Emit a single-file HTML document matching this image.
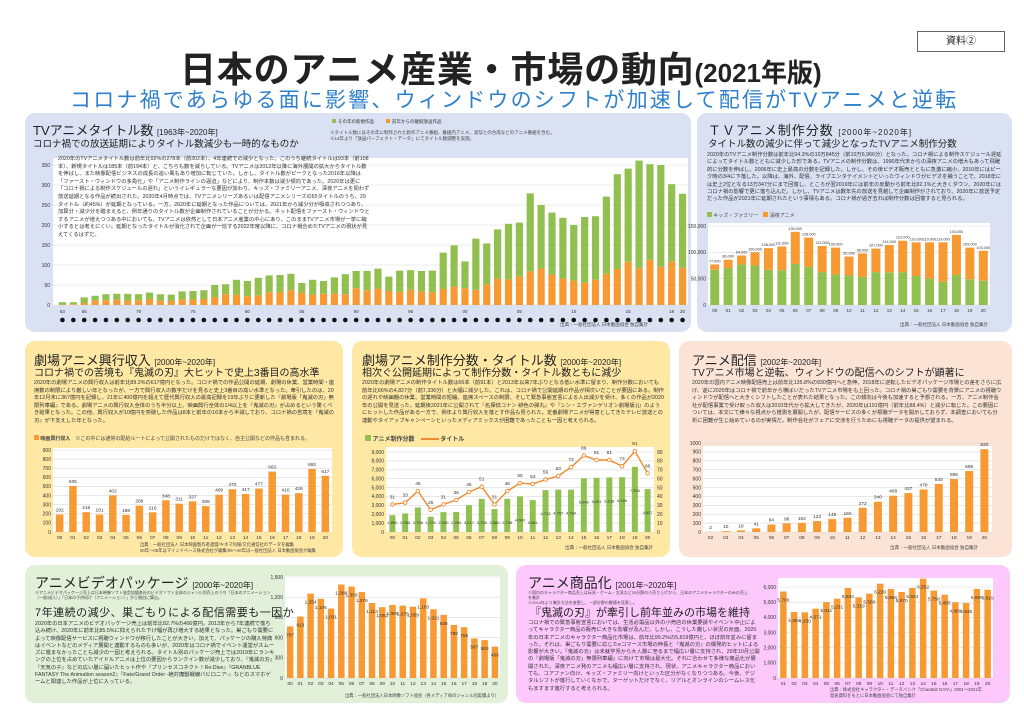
<!DOCTYPE html>
<html lang="ja"><head><meta charset="utf-8">
<style>
*{margin:0;padding:0;box-sizing:border-box}
body{width:1024px;height:724px;background:#fff;position:relative;overflow:hidden;font-family:"Liberation Sans","Noto Sans CJK JP",sans-serif;color:#222}
.abs{position:absolute;z-index:3}
.panel{position:absolute;border-radius:10px;z-index:0}
.t1{font-size:13px;white-space:nowrap;color:#222}
.t1 small{font-size:8px}
.t2{font-size:10.5px;white-space:nowrap;color:#222}
.p{font-size:6px;line-height:8.6px;color:#333}
.tiny{font-size:4.5px;line-height:5.5px;color:#444}
svg text{font-family:"Liberation Sans","Noto Sans CJK JP",sans-serif}
#charts{z-index:1}
</style></head><body>
<div class="abs" style="left:180px;top:41px;font-size:36px;font-weight:bold;white-space:nowrap;letter-spacing:0.8px">日本のアニメ産業・市場の動向<span style="font-size:26px;letter-spacing:0">(2021年版)</span></div>
<div class="abs" style="left:70px;top:84px;font-size:21px;color:#2e80cc;white-space:nowrap;letter-spacing:2.2px">コロナ禍であらゆる面に影響、ウィンドウのシフトが加速して配信がTVアニメと逆転</div>
<div class="abs" style="left:917px;top:31px;width:88px;height:21px;border:1px solid #666;font-size:10px;text-align:center;line-height:19px">資料②</div>

<div class="panel" style="left:25px;top:113px;width:666px;height:219px;background:#d9e1f2"></div>
<div class="panel" style="left:697px;top:113px;width:315px;height:219px;background:#d9e1f2"></div>
<div class="panel" style="left:25px;top:341px;width:318px;height:216px;background:#fee8a3"></div>
<div class="panel" style="left:352px;top:341px;width:318px;height:216px;background:#fee8a3"></div>
<div class="panel" style="left:679px;top:341px;width:333px;height:216px;background:#fbe4d5"></div>
<div class="panel" style="left:25px;top:565px;width:483px;height:138px;background:#e2efd9"></div>
<div class="panel" style="left:516px;top:565px;width:494px;height:138px;background:#fdc9fd"></div>

<!-- panel 1 texts -->
<div class="abs t1" style="left:33px;top:120px">TVアニメタイトル数 <small>[1963年~2020年]</small></div>
<div class="abs t2" style="left:33px;top:136px;font-size:9.5px">コロナ禍での放送延期によりタイトル数減少も一時的なものか</div>
<div class="abs tiny" style="left:330px;top:130px;width:330px">※タイトル数にはその年に制作された新作アニメ番組、番組内アニメ、実写との合成などのアニメ番組を含む。<br>※14年より「放送パーフェクト・データ」にてタイトル数調整を実施。</div>
<div class="abs p" style="left:58px;top:156px;width:312px;font-size:5.3px;line-height:7.6px">2020年のTVアニメタイトル数は前年比92%の278本（前302本）、4年連続での減少となった。このうち継続タイトルは93本（前108本）、新規タイトルは185本（前194本）と、こちらも数を減らしている。TVアニメは2012年以降に海外展開の拡大からタイトル数を伸ばし、また映像配信ビジネスの成長の追い風もあり増加に転じていた。しかし、タイトル数がピークとなった2016年以降は「ファースト・ウィンドウの多角化」や「アニメ制作ラインの逼迫」などにより、制作本数は減少傾向であった。2020年は更に「コロナ禍による制作スケジュールの遅れ」というイレギュラーな要因が加わり、キッズ・ファミリーアニメ、深夜アニメを問わず放送延期となる作品が続出された。2020年4月時点では、TVアニメシリーズあるいは配信アニメシリーズの65タイトルのうち、29タイトル（約45%）が延期となっている。一方、2020年に延期となった作品については、2021年から減少分が吸収されつつあり、加算分・減少分を踏まえると、例年通りのタイトル数が企画制作されていることが分かる。ネット配信をファースト・ウィンドウとするアニメが増えつつある中においても、TVアニメは依然として日本アニメ産業の中心にあり、このままTVアニメ市場が一挙に縮小するとは考えにくい。延期となったタイトルが消化されて企画が一巡する2022年度以降に、コロナ禍合めたTVアニメの現状が見えてくるはずだ。</div>
<div class="abs tiny" style="left:560px;top:322px">出典：一般社団法人 日本動画協会 独自集計</div>

<!-- panel 2 -->
<div class="abs t1" style="left:708px;top:120px;letter-spacing:1px">ＴＶアニメ制作分数 <small>[2000年~2020年]</small></div>
<div class="abs t2" style="left:708px;top:136px;font-size:9.5px">タイトル数の減少に伴って減少となったTVアニメ制作分数</div>
<div class="abs p" style="left:707px;top:152px;width:298px;font-size:5.3px;line-height:7.4px">2020年のTVアニメ制作分数は前年比94.3%の10万845分（前10万6,966分）となった。コロナ禍による制作スケジュール遅延によってタイトル数とともに減少した形である。TVアニメの制作分数は、1990年代末からの深夜アニメの増大もあって飛躍的に分数を伸ばし、2006年に史上最高の分数を記録した。しかし、その後ビデオ販売とともに急激に縮小、2010年にはピーク時の3/4に下落した。以降は、海外、配信、ライブエンタテイメントといったウィンドウがビデオを補うことで、2018年には史上2位となる13万347分にまで回復し、ところが翌2019年には前年の反動から前年比82.1%と大きくダウン、2020年にはコロナ禍の影響で更に落ち込んだ。しかし、TVアニメは数年先の放送を見越して企画制作がされており、2020年に放送予定だった作品が2021年に延期されたという事情もある。コロナ禍が過ぎ去れば制作分数は回復すると見られる。</div>
<div class="abs tiny" style="left:707px;top:212px;font-size:5px"><span style="display:inline-block;width:5px;height:5px;background:#92c050"></span> キッズ・ファミリー　<span style="display:inline-block;width:5px;height:5px;background:#f79a34"></span> 深夜アニメ</div>
<div class="abs tiny" style="left:900px;top:322px">出典：一般社団法人 日本動画協会 独自集計</div>

<!-- panel 3 -->
<div class="abs t1" style="left:34px;top:350px">劇場アニメ興行収入 <small>[2000年~2020年]</small></div>
<div class="abs t2" style="left:34px;top:364px;font-size:10px">コロナ禍での苦境も『鬼滅の刃』大ヒットで史上3番目の高水準</div>
<div class="abs p" style="left:34px;top:380px;width:302px;font-size:5.3px;line-height:7.5px">2020年の劇場アニメの興行収入は前年比89.2%の617億円となった。コロナ禍での作品公開の延期、劇場の休業、営業時間・座席数の制限により厳しい年となったが、一方で興行収入の数字だけを見ると史上3番目の高い水準となった。牽引したのは、20年12月末に367億円を記録し、21年に400億円を超えて歴代興行収入の最高記録を19年ぶりに更新した『劇場版「鬼滅の刃」無限列車編』である。劇場アニメの興行収入全体のうち半分以上、映画興行全体の1/4以上を『鬼滅の刃』が占めるという驚くべき結果となった。この他、興行収入が10億円を突破した作品は8本と前年の16本から半減しており、コロナ禍の苦境を『鬼滅の刃』が下支えした年となった。</div>
<div class="abs tiny" style="left:34px;top:435px;font-size:5px"><span style="display:inline-block;width:5px;height:5px;background:#f79a34"></span> <b>映画興行収入</b>　※この中には通常の配給ルートによって公開されたものだけではなく、自主公開などの作品も含まれる。</div>
<div class="abs tiny" style="left:140px;top:542px;font-size:4.3px">出典：一般社団法人 日本映画製作者連盟/キネマ旬報/文化通信社のデータを編集<br>00年～05年はマインドベース株式会社が編集/06～20年は一般社団法人 日本動画協会が編集</div>

<!-- panel 4 -->
<div class="abs t1" style="left:362px;top:350px">劇場アニメ制作分数・タイトル数 <small>[2000年~2020年]</small></div>
<div class="abs t2" style="left:362px;top:364px;font-size:10px">相次ぐ公開延期によって制作分数・タイトル数ともに減少</div>
<div class="abs p" style="left:362px;top:380px;width:302px;font-size:5.3px;line-height:7.5px">2020年の劇場アニメの制作タイトル数は66本（前91本）と2013年以来7年ぶりとなる低い水準に留まり、制作分数においても前年比66%の4,827分（前7,336分）と大幅に減少した。これは、コロナ禍で公開延期の作品が相次いだことが要因にある。制作の遅れや映画館の休業、営業時間の短縮、座席スペースの制限、そして緊急事態宣言による人出減少を受け、多くの作品が2020年の公開を見送った。延期後2021年に公開されて『名探偵コナン 緋色の弾丸』や『シン・エヴァンゲリオン劇場版:||』のようにヒットした作品がある一方で、例年より興行収入を落とす作品も見られた。定番劇場アニメが得意としてきたテレビ放送との連動やタイアップキャンペーンといったメディアミックスが困難であったことも一因と考えられる。</div>
<div class="abs tiny" style="left:365px;top:435px;font-size:6px"><span style="display:inline-block;width:6px;height:6px;background:#92c050"></span> <b>アニメ制作分数</b>　<span style="display:inline-block;width:18px;height:2px;background:#f08a30;vertical-align:middle"></span> <b>タイトル</b></div>
<div class="abs tiny" style="left:565px;top:545px">出典：一般社団法人 日本動画協会 独自集計</div>

<!-- panel 5 -->
<div class="abs t1" style="left:692px;top:350px">アニメ配信 <small>[2002年~2020年]</small></div>
<div class="abs t2" style="left:692px;top:364px;font-size:10px">TVアニメ市場と逆転、ウィンドウの配信へのシフトが顕著に</div>
<div class="abs p" style="left:692px;top:380px;width:310px;font-size:5.3px;line-height:7.5px">2020年の国内アニメ映像配信売上は前年比135.8%の930億円へと急伸。2018年に逆転したビデオパッケージ市場との差をさらに広げ、遂に2020年はコロナ禍で前年から横ばいだったTVアニメ市場をも上回った。コロナ禍の巣ごもり需要を背景にアニメの視聴ウィンドウが配信へと大きくシフトしたことが表れた結果となった。この傾向は今後も加速すると予想される。一方、アニメ制作会社が配信事業で受け取った収入は2010年代から拡大してきたが、2020年は191億円（前年比88.4%）と減少に転じた。この要因については、本文にて様々な視点から推測を展開したが、配信サービスの多くが視聴データを開示しておらず、本調査においても分析に困難が生じ始めているのが実情だ。制作会社がフェアに交渉を行うためにも視聴データの提供が望まれる。</div>
<div class="abs tiny" style="left:890px;top:545px">出典：一般社団法人 日本動画協会 独自集計</div>

<!-- panel 6 -->
<div class="abs t1" style="left:35px;top:573px;font-size:14px">アニメビデオパッケージ <small>[2000年~2020年]</small></div>
<div class="abs tiny" style="left:35px;top:590px;width:240px;font-size:4px;line-height:5px">※アニメビデオパッケージ売上は日本映像ソフト協会加盟各社のビデオソフト全体のジャンル別売上のうち「日本のアニメーション（一般/成人）」「日本の子供向け（アニメーション）」から独自に算出。</div>
<div class="abs t2" style="left:35px;top:604px;font-size:11px;letter-spacing:0.5px">7年連続の減少、巣ごもりによる配信需要も一因か</div>
<div class="abs p" style="left:35px;top:621px;width:240px;font-size:5.3px;line-height:7.3px">2020年の日本アニメのビデオパッケージ売上は前年比82.7%の466億円。2013年から7年連続で落ち込み続け、2020年に前年比85.5%に抑えられた下げ幅が再び増大する結果となった。巣ごもり需要によって映像配信サービスに視聴ウィンドウが移行したことが大きい。加えて、パッケージの購入特典はイベントなどのメディア展開と連動するものも多いが、2020年はコロナ禍でイベント運営がスムーズに進まなかったことも減少の一因と考えられる。タイトル別のパッケージ売上では2019年にランキングの上位を占めていたアイドルアニメは上位の要因からランクイン数が減少しており、『鬼滅の刃』『天気の子』などの広い層に届いたヒット作や『プリンセスコネクト！Re:Dive』『GRANBLUE FANTASY The Animation season2』『Fate/Grand Order -絶対魔獣戦線バビロニア-』などのスマホゲームと関連した作品が上位に入っている。</div>
<div class="abs tiny" style="left:345px;top:693px;font-size:4.3px">出典：一般社団法人日本映像ソフト協会（各メディア毎のジャンル別実績より）</div>

<!-- panel 7 -->
<div class="abs t1" style="left:528px;top:573px;font-size:14px">アニメ商品化 <small>[2001年~2020年]</small></div>
<div class="abs tiny" style="left:528px;top:590px;width:220px;font-size:4px;line-height:5px">※国内のキャラクター商品売上は玩具・ゲーム・文具など30分野の小売り上げから、日本のアニメキャラクターのみの売上を集計<br>※2014年より集計方法を変更し、一部分野の数値を見直し。</div>
<div class="abs t2" style="left:530px;top:604px;font-size:11px">『鬼滅の刃』が牽引し前年並みの市場を維持</div>
<div class="abs p" style="left:528px;top:620px;width:232px;font-size:5.3px;line-height:7.3px">コロナ禍での緊急事態宣言においては、生活必需品以外の小売店の休業要請やイベント中止によってキャラクター商品の販売に大きな影響が及んだ。しかし、こうした厳しい状況の反面、2020年の日本アニメのキャラクター商品化市場は、前年比99.2%の5,819億円と、ほぼ前年並みに留まった。それは、巣ごもり需要に応じたeコマース市場の伸長と『鬼滅の刃』の爆発的ヒットによる影響が大きい。『鬼滅の刃』は未就学児から大人層に至るまで幅広い層に支持され、20年10月公開の『劇場版「鬼滅の刃」無限列車編』に向けて市場は最大化。それに合わせて多様な商品化が展開された。深夜アニメ発のアニメも幅広い層に支持され、現状、アニメキャラクター商品においても、コアファン向け、キッズ・ファミリー向けといった区分がなくなりつつある。今後、デジタルシフトが進行していくなかで、ターゲットだけでなく、リアルとオンラインのシームレス化もますます進行すると考えられる。</div>
<div class="abs tiny" style="left:830px;top:687px;font-size:4.3px">出典：株式会社キャラクター・データバンク「CharaBiz DATA」2001～2021年<br>発表資料をもとに日本動画協会にて独自集計</div>

<svg id="charts" style="position:absolute;left:0;top:0" width="1024" height="724"></svg>

<script>
// ---- TV anime titles 1963-2020 ----
const tvTitleYears = [];
for (let y = 1963; y <= 2020; y++) tvTitleYears.push(y);
const tvContinuing = [1,2,5,11,12,13,11,12,15,11,10,14,14,15,20,27,26,22,24,32,32,37,31,26,28,29,27,42,37,41,35,33,38,34,32,40,46,42,38,51,66,64,72,84,91,76,66,61,56,63,78,90,108,92,113,96,108,93];
const tvNew = [6,5,14,12,15,15,17,15,16,16,16,20,21,22,30,25,37,38,44,42,43,41,24,37,32,40,50,43,48,50,36,53,49,51,54,91,103,67,128,103,123,139,134,195,159,155,152,139,164,159,193,237,233,269,239,254,194,185];
const tvTitleTicks = [0,50,100,150,200,250,300,350];
const tvTitleShown = ['63','65','70','75','80','85','90','95','00','05','10','15','19','20'];

// ---- TV anime minutes 2000-2020 ----
const minYears = ['00','01','02','03','04','05','06','07','08','09','10','11','12','13','14','15','16','17','18','19','20'];
const minKids = [67000,70000,77000,75000,67000,66000,78000,72000,62500,58000,56000,53000,62500,62000,62500,55000,50000,44000,57000,49000,46000];
const minLate = [10000,16000,17000,25000,41000,45000,61000,56000,49500,51000,36000,45000,44500,52000,59500,64000,69000,75000,76000,60000,57000];
const minTicks = [0,50000,100000,150000];

// ---- Box office 2000-2020 ----
const boxYears = ['00','01','02','03','04','05','06','07','08','09','10','11','12','13','14','15','16','17','18','19','20'];
const boxValues = [192,505,218,191,402,188,289,216,348,311,337,285,409,470,417,477,663,410,426,692,617];
const boxTicks = [0,100,200,300,400,500,600,700,800,900];

// ---- Film production 2000-2020 ----
const filmYears = ['00','01','02','03','04','05','06','07','08','09','10','11','12','13','14','15','16','17','18','19','20'];
const filmMinutes = [1890,2085,2758,1729,2240,2254,3017,3728,2580,3738,4000,3581,4713,4767,4764,6046,6091,6138,6166,7336,4827];
const filmTitles = [31,33,46,25,31,36,45,51,31,46,55,54,59,63,73,86,81,81,74,91,66];
const filmTicksL = [0,1000,2000,3000,4000,5000,6000,7000,8000,9000];
const filmTicksR = [0,10,20,30,40,50,60,70,80,90];

// ---- Streaming 2002-2020 ----
const streamYears = ['02','03','04','05','06','07','08','09','10','11','12','13','14','15','16','17','18','19','20'];
const streamValues = [2,10,18,41,84,98,102,123,145,160,272,340,408,437,478,540,595,685,930];
const streamTicks = [0,100,200,300,400,500,600,700,800,900,1000];

// ---- Video package 2000-2020 ----
const vidYears = ['00','01','02','03','04','05','06','07','08','09','10','11','12','13','14','15','16','17','18','19','20'];
const vidValues = [767,913,1254,1176,1031,1388,1358,1276,1113,1052,1085,1075,1059,1183,1021,938,788,755,587,563,466];
const vidTicks = [0,300,600,900,1200,1500];

// ---- Merchandise 2001-2020 ----
const merchYears = ['01','02','03','04','05','06','07','08','09','10','11','12','13','14','15','16','17','18','19','20'];
const merchValues = [5700,4350,4330,4571,5011,5231,5934,5319,5560,6220,5868,5670,5934,6552,5758,5495,4989,4945,5868,5819];
const merchTicks = [0,1000,2000,3000,4000,5000,6000];

const NS = 'http://www.w3.org/2000/svg';
const svg = document.getElementById('charts');
const GREEN = '#92c050', ORANGE = '#f79a34';
function mk(tag, attrs, parent) {
  const e = document.createElementNS(NS, tag);
  for (const k in attrs) e.setAttribute(k, attrs[k]);
  (parent || svg).appendChild(e);
  return e;
}
function fmt(v) { return v.toLocaleString('en-US'); }
function linScale(d0, d1, r0, r1) { return v => r0 + (v - d0) / (d1 - d0) * (r1 - r0); }

function frame(name, x0, x1, top, base, ticks, yFn, tickFmt, leftLabelX) {
  const g = mk('g', {});
  
  
  const bg = mk('rect', {x: x0, y: top, width: x1 - x0, height: base - top, fill: '#fff'}, g);
  
  
  ticks.forEach(t => {
    const y = yFn(t);
    const gl = mk('line', {x1: x0, x2: x1, y1: y, y2: y, stroke: '#d9d9d9', 'stroke-width': 0.6}, g);
    
    
    const tl = mk('text', {x: leftLabelX, y: y + 1.8, 'font-size': 5, 'text-anchor': 'end', fill: '#333'}, g);
    
    
    tl.textContent = tickFmt(t);
  });
  return g;
}

function simpleBars(name, cats, vals, x0, x1, base, yFn, barW, showVal, labelInside) {
  const g = mk('g', {});
  
  
  const band = (x1 - x0) / cats.length;
  cats.forEach((c, i) => {
    const cx = x0 + band * (i + 0.5);
    const y = yFn(vals[i]);
    const r = mk('rect', {x: cx - barW / 2, y: y, width: barW, height: base - y, fill: ORANGE}, g);
    
    
    if (showVal) {
      const t = mk('text', {x: cx, y: labelInside ? y + 10 : y - 3, 'font-size': 4.8, 'text-anchor': 'middle', fill: '#333'}, g);
      
      
      t.textContent = fmt(vals[i]);
    }
    const xl = mk('text', {x: cx, y: base + 7, 'font-size': 4.8, 'text-anchor': 'middle', fill: '#333'}, g);
    
    
    xl.textContent = c;
  });
}

// Chart 1: TV titles
(function () {
  const x0 = 53, x1 = 688, top = 158, base = 305;
  const y = linScale(0, 350, base, 165);
  frame('tv-titles-axes', x0, x1, top, base, tvTitleTicks, y, String, 50);
  const g = mk('g', {});
  
  
  const band = (x1 - x0 - 4) / tvTitleYears.length;
  tvTitleYears.forEach((yr, i) => {
    const cx = x0 + 4 + band * (i + 0.5);
    const yo = y(tvContinuing[i]), yt = y(tvContinuing[i] + tvNew[i]);
    const ro = mk('rect', {x: cx - 3.6, y: yo, width: 7.2, height: base - yo, fill: ORANGE}, g);
    
    
    const rn = mk('rect', {x: cx - 3.6, y: yt, width: 7.2, height: yo - yt, fill: GREEN}, g);
    
    
    const d = mk('circle', {cx: cx, cy: 320, r: 2.3, fill: '#111'}, g);
    
    
    const s = String(yr).slice(2);
    if (tvTitleShown.includes(s)) {
      const t = mk('text', {x: cx, y: 313, 'font-size': 4.5, 'text-anchor': 'middle', fill: '#333'}, g);
      
      
      t.textContent = s;
    }
  });
  const lg = mk('g', {});
  
  
  mk('rect', {x: 332, y: 119, width: 4, height: 4, fill: GREEN}, lg);
  mk('text', {x: 338, y: 123, 'font-size': 4.5, fill: '#333'}, lg).textContent = 'その年の新規作品';
  mk('rect', {x: 386, y: 119, width: 4, height: 4, fill: ORANGE}, lg);
  mk('text', {x: 392, y: 123, 'font-size': 4.5, fill: '#333'}, lg).textContent = '前年からの継続放送作品';
})();

// Chart 2: TV minutes
(function () {
  const x0 = 708, x1 = 990, top = 223, base = 305;
  const y = linScale(0, 150000, base, 226);
  frame('tv-minutes-axes', x0, x1, top, base, minTicks, y, fmt, 706);
  const g = mk('g', {});
  
  
  const band = (x1 - x0) / minYears.length;
  minYears.forEach((yr, i) => {
    const cx = x0 + band * (i + 0.5);
    const yk = y(minKids[i]), yt = y(minKids[i] + minLate[i]);
    const rk = mk('rect', {x: cx - 4.5, y: yk, width: 9, height: base - yk, fill: GREEN}, g);
    
    
    const rl = mk('rect', {x: cx - 4.5, y: yt, width: 9, height: yk - yt, fill: ORANGE}, g);
    
    
    const t = mk('text', {x: cx, y: yt - 2, 'font-size': 3.8, 'text-anchor': 'middle', fill: '#333'}, g);
    
    
    t.textContent = fmt(minKids[i] + minLate[i]);
    const xl = mk('text', {x: cx, y: base + 7, 'font-size': 4.5, 'text-anchor': 'middle', fill: '#333'}, g);
    
    
    xl.textContent = yr;
  });
})();

// Chart 3: box office
(function () {
  const x0 = 53, x1 = 332, top = 448, base = 532;
  const y = linScale(0, 900, base, 450);
  frame('box-office-axes', x0, x1, top, base, boxTicks, y, String, 51);
  simpleBars('box-office-bars', boxYears, boxValues, x0, x1, base, y, 7.5, true, false);
})();

// Chart 4: film production
(function () {
  const x0 = 386, x1 = 654, top = 447, base = 532;
  const y = linScale(0, 9000, base, 452);
  const yr = linScale(0, 90, base, 452);
  frame('film-production-axes', x0, x1, top, base, filmTicksL, y, fmt, 384);
  filmTicksR.forEach(t => {
    const tl = mk('text', {x: 657, y: yr(t) + 1.8, 'font-size': 5, fill: '#333'});
    
    
    tl.textContent = t;
  });
  const g = mk('g', {});
  
  
  const band = (x1 - x0) / filmYears.length;
  const pts = [];
  filmYears.forEach((c, i) => {
    const cx = x0 + band * (i + 0.5);
    const yb = y(filmMinutes[i]);
    const r = mk('rect', {x: cx - 3, y: yb, width: 6, height: base - yb, fill: GREEN}, g);
    
    
    const vl = mk('text', {x: cx, y: Math.min(yb + 25, base - 8), 'font-size': 4, 'text-anchor': 'middle', fill: '#333'}, g);
    
    
    vl.textContent = fmt(filmMinutes[i]);
    const xl = mk('text', {x: cx, y: base + 7, 'font-size': 4.8, 'text-anchor': 'middle', fill: '#333'}, g);
    
    
    xl.textContent = c;
    pts.push([cx, yr(filmTitles[i])]);
  });
  const line = mk('polyline', {points: pts.map(p => p.join(',')).join(' '), fill: 'none', stroke: '#f08a30', 'stroke-width': 1.4}, g);
  
  
  pts.forEach((p, i) => {
    const c = mk('circle', {cx: p[0], cy: p[1], r: 1.8, fill: '#fff', stroke: '#f08a30', 'stroke-width': 0.9}, g);
    
    
    const t = mk('text', {x: p[0], y: p[1] - 6, 'font-size': 4.8, 'text-anchor': 'middle', fill: '#333'}, g);
    
    
    t.textContent = filmTitles[i];
  });
})();

// Chart 5: streaming
(function () {
  const x0 = 703, x1 = 992, top = 446, base = 532;
  const y = linScale(0, 1000, base, 443);
  frame('streaming-axes', x0, x1, top, base, streamTicks, y, String, 701);
  simpleBars('streaming-bars', streamYears, streamValues, x0, x1, base, y, 8, true, false);
})();

// Chart 6: video package
(function () {
  const x0 = 285, x1 = 500, top = 576, base = 678;
  const y = linScale(0, 1500, base, 577);
  frame('video-package-axes', x0, x1, top, base, vidTicks, y, fmt, 283);
  simpleBars('video-package-bars', vidYears, vidValues, x0, x1, base, y, 6.5, true, true);
})();

// Chart 7: merchandise
(function () {
  const x0 = 778, x1 = 993, top = 578, base = 678;
  const y = linScale(0, 6000, base, 587);
  frame('merchandise-axes', x0, x1, top, base, merchTicks, y, fmt, 776);
  simpleBars('merchandise-bars', merchYears, merchValues, x0, x1, base, y, 6.5, true, true);
})();
</script>
</body></html>
